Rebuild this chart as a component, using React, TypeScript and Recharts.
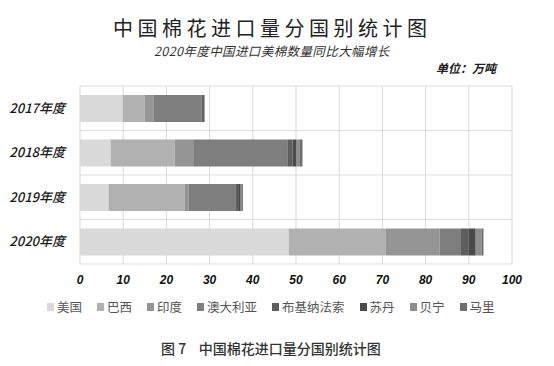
import { BarChart, Bar, XAxis, YAxis, CartesianGrid } from 'recharts';

const years = ['2017年度', '2018年度', '2019年度', '2020年度'];
const countries = ['美国', '巴西', '印度', '澳大利亚', '布基纳法索', '苏丹', '贝宁', '马里'];
const keys = ['usa', 'brazil', 'india', 'australia', 'burkina', 'sudan', 'benin', 'mali'];
const colors = ['#dadada', '#b1b1b1', '#959595', '#7e7e7e', '#5e5e5e', '#4a4a4a', '#8e8e8e', '#6e6e6e'];

// 单位：万吨
const usa = [9.9, 7.1, 6.6, 48.3];
const brazil = [5.1, 14.8, 17.7, 22.5];
const india = [2.0, 4.3, 0.9, 12.4];
const australia = [11.2, 21.8, 10.9, 5.0];
const burkina = [0.3, 1.2, 0.5, 1.8];
const sudan = [0.2, 0.8, 0.6, 1.6];
const benin = [0.1, 0.9, 0.3, 1.4];
const mali = [0.1, 0.6, 0.2, 0.4];

const xTicks = [0, 10, 20, 30, 40, 50, 60, 70, 80, 90, 100];

const series = [usa, brazil, india, australia, burkina, sudan, benin, mali];

const data = years.map((year, i) => {
  const row: Record<string, string | number> = { year };
  keys.forEach((k, j) => {
    row[k] = series[j][i];
  });
  return row;
});

const cjk = '"Noto Sans CJK SC", "Liberation Sans", sans-serif';

export default function App() {
  return (
    <div style={{ position: 'absolute', left: 0, top: 0, width: 554, height: 366, background: '#fff', fontFamily: cjk }}>
      {/* 标题 */}
      <div style={{ position: 'absolute', left: 113, top: 15, fontSize: 20, letterSpacing: 4.5, color: '#222', lineHeight: '26px', whiteSpace: 'nowrap' }}>
        中国棉花进口量分国别统计图
      </div>
      <div style={{ position: 'absolute', left: 154, top: 43, fontSize: 12.5, fontStyle: 'italic', letterSpacing: 0.4, color: '#333', lineHeight: '16px', whiteSpace: 'nowrap' }}>
        2020年度中国进口美棉数量同比大幅增长
      </div>
      <div style={{ position: 'absolute', left: 436, top: 60, fontSize: 12, fontStyle: 'italic', fontWeight: 700, color: '#222', lineHeight: '16px' }}>
        单位：万吨
      </div>

      <BarChart
        width={554}
        height={366}
        data={data}
        layout="vertical"
        margin={{ top: 86, right: 42, left: 0, bottom: 0 }}
      >
        <CartesianGrid
          stroke="#dedede"
          strokeWidth={1.2}
          horizontalCoordinatesGenerator={({ offset }: any) =>
            [0, 1, 2, 3, 4].map((i) => offset.top + (offset.height * i) / 4)
          }
        />
        <XAxis
          type="number"
          domain={[0, 100]}
          ticks={xTicks}
          height={102}
          axisLine={false}
          tickLine={false}
          tickSize={0}
          tickMargin={11}
          tick={{ fill: '#111', fontSize: 12, fontWeight: 700, fontStyle: 'italic', fontFamily: '"Liberation Sans", Arial, sans-serif' }}
        />
        <YAxis
          type="category"
          dataKey="year"
          width={80}
          axisLine={false}
          tickLine={false}
          tickSize={0}
          tickMargin={15}
          tick={{ fill: '#1a1a1a', fontSize: 13, fontWeight: 500, fontStyle: 'italic', fontFamily: cjk }}
        />
        {keys.map((k, j) => (
          <Bar key={k} dataKey={k} name={countries[j]} stackId="a" fill={colors[j]} barSize={27} isAnimationActive={false} />
        ))}
      </BarChart>

      {/* 图例 */}
      <div style={{ position: 'absolute', left: 47, top: 298, display: 'flex', gap: 15, fontSize: 12.5, color: '#555', lineHeight: '18px' }}>
        {countries.map((c, j) => (
          <div key={c} style={{ display: 'flex', alignItems: 'center' }}>
            <span style={{ display: 'inline-block', width: 7, height: 8, background: colors[j], marginRight: 3 }} />
            <span>{c}</span>
          </div>
        ))}
      </div>

      <div style={{ position: 'absolute', left: 161, top: 339, fontSize: 14, fontWeight: 500, color: '#333', lineHeight: '18px', whiteSpace: 'pre' }}>
        图 7    中国棉花进口量分国别统计图
      </div>
    </div>
  );
}
